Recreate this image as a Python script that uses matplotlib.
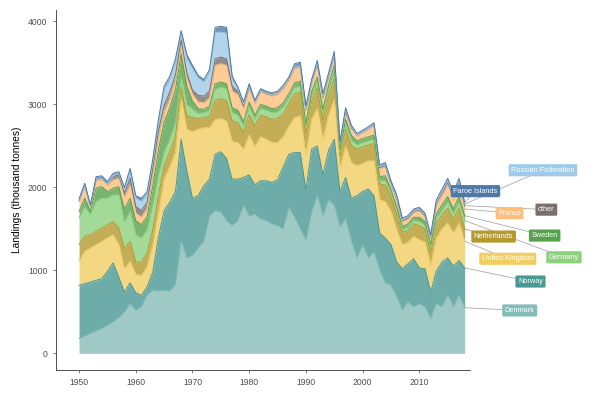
import numpy as np
import matplotlib
matplotlib.use('Agg')
import matplotlib.pyplot as plt

plt.rcParams['font.family'] = ['Liberation Sans', 'DejaVu Sans']

# landings per country (thousand tonnes)
years = list(range(1950, 2019))

denmark = [180, 210, 240, 270, 300, 340, 380, 430, 500, 600,
           520, 560, 700, 760, 750, 760, 750, 830, 1350, 1150,
           1180, 1270, 1350, 1650, 1720, 1700, 1600, 1540, 1600, 1780,
           1650, 1680, 1620, 1600, 1560, 1540, 1500, 1760, 1640, 1500,
           1360, 1700, 1900, 1650, 1850, 1780, 1520, 1620, 1350, 1150,
           1300, 1150, 1220, 1000, 850, 820, 680, 520, 620, 560,
           600, 560, 420, 600, 560, 700, 560, 700, 550]
norway = [640, 630, 620, 610, 600, 650, 710, 490, 240, 250,
          210, 140, 100, 220, 650, 960, 1070, 1120, 1230, 1050,
          690, 630, 670, 450, 680, 730, 750, 560, 500, 340,
          500, 350, 460, 480, 500, 550, 750, 640, 780, 920,
          610, 760, 600, 500, 600, 800, 430, 500, 520, 750,
          650, 830, 680, 450, 540, 490, 420, 500, 460, 580,
          430, 460, 320, 390, 540, 450, 490, 420, 480]
uk = [290, 390, 410, 430, 450, 400, 340, 390, 280, 260,
      220, 240, 250, 330, 300, 380, 430, 480, 480, 500,
      800, 800, 700, 620, 420, 400, 450, 450, 440, 340,
      480, 460, 530, 500, 480, 450, 360, 340, 420, 440,
      420, 360, 450, 430, 420, 480, 280, 380, 430, 360,
      340, 340, 420, 400, 440, 400, 390, 290, 260, 270,
      340, 320, 320, 400, 400, 420, 400, 450, 320]
netherlands = [200, 180, 160, 160, 160, 160, 160, 200, 240, 240,
               150, 160, 160, 180, 200, 170, 180, 190, 150, 170,
               170, 130, 120, 140, 230, 240, 250, 250, 240, 200,
               250, 250, 260, 270, 280, 290, 280, 270, 290, 290,
               260, 220, 250, 230, 230, 250, 150, 200, 210, 200,
               200, 190, 210, 190, 200, 180, 190, 150, 140, 150,
               170, 160, 150, 170, 170, 180, 170, 180, 150]
germany = [320, 360, 240, 360, 360, 320, 320, 400, 320, 360,
           330, 290, 280, 300, 250, 150, 150, 160, 120, 130,
           100, 60, 60, 70, 130, 140, 140, 100, 90, 80,
           90, 80, 80, 80, 80, 80, 80, 70, 70, 70,
           70, 60, 70, 70, 70, 80, 40, 60, 60, 50,
           50, 50, 50, 40, 50, 40, 40, 30, 40, 40,
           50, 40, 50, 60, 60, 70, 60, 70, 100]
sweden = [80, 100, 40, 160, 140, 80, 80, 100, 160, 160,
          170, 160, 160, 230, 300, 370, 380, 400, 280, 220,
          100, 60, 40, 50, 70, 60, 60, 60, 60, 50,
          60, 50, 50, 50, 50, 50, 50, 50, 60, 60,
          50, 50, 60, 60, 60, 80, 40, 60, 60, 50,
          50, 50, 50, 50, 60, 40, 50, 40, 40, 40,
          50, 50, 50, 60, 60, 70, 60, 70, 60]
france = [120, 150, 60, 100, 80, 80, 100, 100, 140, 160,
          90, 90, 100, 150, 160, 120, 110, 110, 120, 100,
          80, 80, 80, 100, 220, 220, 220, 200, 190, 160,
          170, 140, 150, 140, 150, 160, 170, 160, 170, 170,
          150, 110, 140, 130, 100, 120, 50, 90, 80, 60,
          70, 90, 120, 100, 110, 60, 90, 60, 60, 60,
          80, 60, 80, 110, 120, 140, 120, 140, 80]
other = [10, 10, 0, 10, 20, 10, 40, 40, 50, 80,
         80, 80, 70, 60, 70, 80, 80, 70, 50, 60,
         50, 80, 80, 80, 80, 80, 80, 60, 40, 30,
         20, 20, 20, 20, 20, 20, 20, 20, 20, 20,
         20, 10, 20, 20, 10, 10, 10, 10, 10, 10,
         10, 10, 10, 10, 10, 10, 10, 10, 10, 10,
         10, 10, 10, 20, 20, 30, 30, 30, 40]
russia = [0, 0, 0, 0, 0, 0, 10, 20, 40, 80,
          100, 110, 100, 80, 100, 190, 150, 150, 80, 170,
          260, 210, 170, 230, 320, 300, 310, 80, 30, 20,
          10, 0, 0, 0, 0, 0, 0, 0, 0, 0,
          0, 0, 10, 10, 10, 10, 10, 10, 10, 0,
          0, 0, 0, 10, 10, 10, 10, 10, 10, 10,
          10, 10, 10, 10, 20, 20, 20, 20, 20]
faroe = [20, 20, 20, 30, 30, 30, 30, 20, 30, 40,
         30, 40, 30, 30, 40, 40, 40, 40, 30, 50,
         40, 30, 30, 30, 60, 70, 70, 40, 20, 30,
         20, 20, 20, 20, 20, 20, 20, 20, 40, 40,
         40, 30, 30, 30, 30, 30, 20, 30, 20, 20,
         20, 20, 20, 20, 30, 30, 30, 20, 20, 20,
         20, 20, 20, 30, 30, 30, 30, 30, 20]

countries = ['Denmark', 'Norway', 'United Kingdom', 'Netherlands', 'Germany',
             'Sweden', 'France', 'other', 'Russian Federation', 'Faroe Islands']
series = [denmark, norway, uk, netherlands, germany, sweden, france, other, russia, faroe]
colors = ['#86BCB6', '#499894', '#F1CE63', '#B6992D', '#8CD17D',
          '#59A14F', '#FFBE7D', '#79706E', '#A0CBE8', '#4E79A7']

# label box centres (year, value), placed to the right of the data like ggrepel
label_pos = {
    'Denmark': (2027.7, 517),
    'Norway': (2029.6, 866),
    'United Kingdom': (2025.6, 1140),
    'Netherlands': (2023.1, 1408),
    'Germany': (2035.5, 1158),
    'Sweden': (2032.1, 1420),
    'France': (2025.9, 1690),
    'other': (2032.4, 1732),
    'Russian Federation': (2031.8, 2207),
    'Faroe Islands': (2019.9, 1955),
}

fig = plt.figure(figsize=(6, 3.94), dpi=100)
ax = fig.add_axes([0.093, 0.061, 0.69, 0.914])

x = np.array(years)
base = np.zeros(len(years))
tops = {}
for name, vals, c in zip(countries, series, colors):
    top = base + np.array(vals)
    ax.fill_between(x, base, top, color=c, alpha=0.8, linewidth=0)
    ax.plot(x, top, color=c, linewidth=0.7)
    tops[name] = top[-1]
    base = top

# labels with leader lines
for name, c in zip(countries, colors):
    lx, ly = label_pos[name]
    ax.plot([x[-1], lx], [tops[name], ly], color='#9a9a9a', linewidth=0.5,
            zorder=4, clip_on=False)
    ax.text(lx, ly, name, ha='center', va='center', fontsize=5.3, color='white',
            zorder=5, clip_on=False,
            bbox=dict(boxstyle='round,pad=0.35,rounding_size=0.2', fc=c, ec='none'))

ax.set_xlim(1945.9, 2018.9)
ax.set_ylim(-200, 4140)
ax.set_xticks([1950, 1960, 1970, 1980, 1990, 2000, 2010])
ax.set_yticks([0, 1000, 2000, 3000, 4000])
ax.set_ylabel('Landings (thousand tonnes)', fontsize=7.3, color='black')
ax.tick_params(labelsize=6.2, colors='#4d4d4d', length=2.5, width=0.5)
for side in ['top', 'right']:
    ax.spines[side].set_visible(False)
for side in ['left', 'bottom']:
    ax.spines[side].set_linewidth(0.6)
    ax.spines[side].set_color('#333333')

fig.savefig('out.png', dpi=100)
